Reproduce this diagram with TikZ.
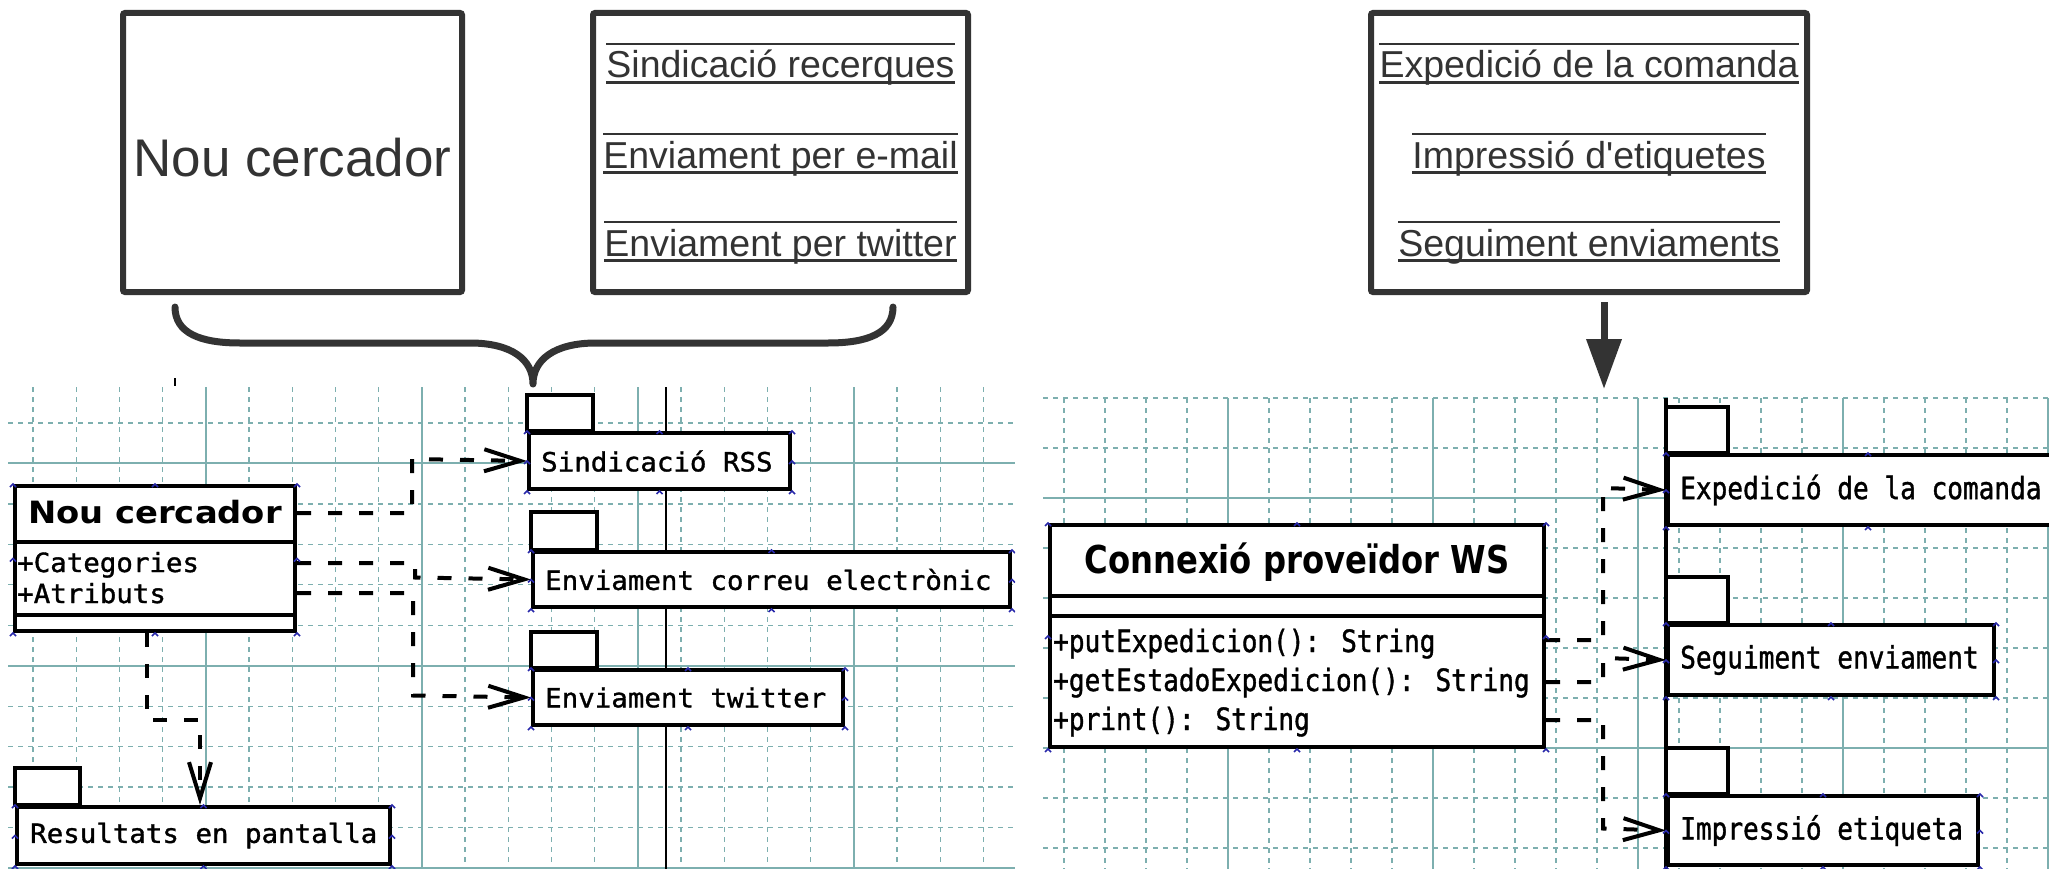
\documentclass[tikz,border=0pt]{standalone}
\usepackage{fontspec}
\setmainfont{Liberation Sans}
\newfontfamily\leftmono[FakeStretch=1.04,FakeBold=1.2]{DejaVu Sans Mono}
\newfontfamily\rightmono[FakeStretch=0.85,FakeBold=1.2]{DejaVu Sans Mono}
\newfontfamily\lefthead[FakeStretch=1.1]{DejaVu Sans}
\newfontfamily\righthead[FakeStretch=0.84]{DejaVu Sans}
\usetikzlibrary{arrows.meta}

\definecolor{inkgray}{RGB}{51,51,51}
\definecolor{gridteal}{RGB}{125,175,175}
\definecolor{handleblue}{RGB}{40,40,170}

\tikzset{
  topbox/.style={draw=inkgray, line width=6pt, rounded corners=2pt, inner sep=0pt, fill=white},
  toptext/.style={text=inkgray, inner sep=0pt, font=\fontsize{37.5}{40}\selectfont},
  rule/.style={draw=inkgray, line width=2.5pt},
  minorgrid/.style={gridteal, line width=1.3pt, dash pattern=on 5pt off 5pt},
  majorgrid/.style={gridteal, line width=2pt},
  umlbox/.style={draw, line width=4pt, fill=white, inner sep=0pt},
  pkgtab/.style={draw, line width=4pt, fill=white},
  lefttext/.style={inner sep=0pt, font=\leftmono\fontsize{26.4}{30}\selectfont},
  righttext/.style={inner sep=0pt, font=\rightmono\fontsize{30.7}{34}\selectfont},
  link/.style={line width=4pt, dash pattern=on 14pt off 17pt},
  dep/.style={link, -{Straight Barb[length=36pt,width=22pt]}},
  handle/.style={handleblue, line width=1.5pt},
}

% underlined item of a top box
\newcommand\listitem[4]{%
  \node[toptext, anchor=base] (#1) at (#2,#3) {#4};
  \draw[rule] (#1.west |- 0,#3-34) -- (#1.east |- 0,#3-34);
  \draw[rule] (#1.west |- 0,#3+4.5) -- (#1.east |- 0,#3+4.5);
}
% selection marks round a box
\newcommand\selmarks[1]{%
  \foreach \anc in {north west,north,north east,east,south east,south,south west,west}
    \draw[handle] ([shift={(-3,3)}]#1.\anc) -- ++(3,-3) -- ++(3,3);
}

\begin{document}
\begin{tikzpicture}[x=1pt,y=-1pt]
\useasboundingbox (0,0) rectangle (2049,869);
\fill[white] (0,0) rectangle (2049,869);

% top: the two sketches
\node[topbox, minimum width=339, minimum height=279] (nouTop) at (292.5,152.5) {};
\node[text=inkgray, inner sep=0pt, font=\fontsize{53}{60}\selectfont] (nouTxt) at (292.5,158) {Nou cercador};
\node[topbox, minimum width=375, minimum height=279] (sindTop) at (780.5,152.5) {};
\listitem{sindA}{780.5}{78}{Sindicació recerques}
\listitem{sindB}{780.5}{168}{Enviament per e-mail}
\listitem{sindC}{780.5}{256}{Enviament per twitter}

\node[topbox, minimum width=436, minimum height=279] (expTop) at (1589,152.5) {};
\listitem{expA}{1589}{78}{Expedició de la comanda}
\listitem{expB}{1589}{168}{Impressió d\textquotesingle etiquetes}
\listitem{expC}{1589}{256}{Seguiment enviaments}

% brace and arrow
\draw[inkgray, line width=7pt, line cap=round, line join=round]
  (175,307) .. controls (175,333) and (200,343) .. (240,343) -- (470,343)
  .. controls (512,343) and (533,360) .. (533,384)
  .. controls (533,360) and (554,343) .. (596,343) -- (828,343)
  .. controls (868,343) and (893,333) .. (893,307);
\coordinate (expIn) at (1604,389);
\draw[inkgray, line width=7pt, -{Triangle[length=50pt,width=34pt]}]
  ([xshift=15pt,yshift=-7pt]expTop.south) -- (expIn);

% left panel
\begin{scope}
\clip (8,385) rectangle (1015,869);
\foreach \k in {0,...,22}
  \draw[minorgrid] ({33+43.2*\k},387) -- ({33+43.2*\k},869);
\foreach \j in {0,...,11}
  \draw[minorgrid] (8,{423+40.45*\j}) -- (1015,{423+40.45*\j});
\foreach \k in {4,9,14,19}
  \draw[majorgrid] ({33+43.2*\k},387) -- ({33+43.2*\k},869);
\foreach \j in {1,6,11}
  \draw[majorgrid] (8,{423+40.45*\j}) -- (1015,{423+40.45*\j});
\draw[line width=2pt] (666,387) -- (666,869);

\node[umlbox, minimum width=280, minimum height=145] (ncClass) at (155,558.5) {};
\draw[line width=4pt] (ncClass.west |- 0,542) -- (ncClass.east |- 0,542);
\draw[line width=4pt] (ncClass.west |- 0,615) -- (ncClass.east |- 0,615);
\node[inner sep=0pt, anchor=base, font=\lefthead\bfseries\fontsize{30.7}{34}\selectfont]
  (ncHead) at (155,523) {Nou cercador};
\node[lefttext, anchor=base west] (ncCat) at (17,572) {+Categories};
\node[lefttext, anchor=base west] (ncAtr) at (17,603) {+Atributs};

\node[umlbox, minimum width=261, minimum height=56, anchor=north west] (sindPkg) at (527,431) {};
\draw[pkgtab] (sindPkg.north west) rectangle ++(66,-36);
\node[lefttext, anchor=west] (sindTxt) at ([xshift=14pt]sindPkg.west) {Sindicació RSS};

\node[umlbox, minimum width=477, minimum height=55, anchor=north west] (corrPkg) at (531,550) {};
\draw[pkgtab] (corrPkg.north west) rectangle ++(66,-38);
\node[lefttext, anchor=west] (corrTxt) at ([xshift=14pt]corrPkg.west) {Enviament correu electrònic};

\node[umlbox, minimum width=310, minimum height=55, anchor=north west] (twitPkg) at (531,668) {};
\draw[pkgtab] (twitPkg.north west) rectangle ++(66,-36);
\node[lefttext, anchor=west] (twitTxt) at ([xshift=14pt]twitPkg.west) {Enviament twitter};

\node[umlbox, minimum width=373, minimum height=57, anchor=north west] (resPkg) at (15,805) {};
\draw[pkgtab] (resPkg.north west) rectangle ++(65,-37);
\node[lefttext, anchor=west] (resTxt) at ([xshift=15pt]resPkg.west) {Resultats en pantalla};

\draw[dep] (ncClass.east |- 0,513) -- (412,513) -- (412,459) -- (sindPkg.west);
\draw[dep] (ncClass.east |- 0,563) -- (415,563) -- (415,577.5) -- (corrPkg.west);
\draw[dep] (ncClass.east |- 0,593) -- (413,593) -- (413,695.5) -- (twitPkg.west);
\draw[dep] (ncClass.south -| 147,0) -- (147,720) -- (200,720) -- (resPkg.north -| 200,0);

\selmarks{ncClass}
\selmarks{sindPkg}
\selmarks{corrPkg}
\selmarks{twitPkg}
\selmarks{resPkg}
\end{scope}
\draw[line width=1.5pt] (175,378) -- (175,386);

% right panel
\begin{scope}
\clip (1043,396) rectangle (2049,869);
\foreach \k in {0,...,24}
  \draw[minorgrid] ({1064+41*\k},398) -- ({1064+41*\k},869);
\foreach \j in {0,...,9}
  \draw[minorgrid] (1043,{398+50*\j}) -- (2049,{398+50*\j});
\foreach \k in {4,9,14,19,24}
  \draw[majorgrid] ({1064+41*\k},398) -- ({1064+41*\k},869);
\foreach \j in {2,7}
  \draw[majorgrid] (1043,{398+50*\j}) -- (2049,{398+50*\j});
\draw[line width=4pt] (1666,398) -- (1666,869);

\node[umlbox, minimum width=494, minimum height=222] (cpClass) at (1297,636) {};
\draw[line width=4pt] (cpClass.west |- 0,596) -- (cpClass.east |- 0,596);
\draw[line width=4pt] (cpClass.west |- 0,616) -- (cpClass.east |- 0,616);
\node[inner sep=0pt, anchor=base, font=\righthead\bfseries\fontsize{38.4}{42}\selectfont]
  (cpHead) at (1297,573) {Connexió proveïdor WS};
\node[righttext, anchor=base west] (cpPut) at (1053,652) {+putExpedicion(): String};
\node[righttext, anchor=base west] (cpGet) at (1053,691) {+getEstadoExpedicion(): String};
\node[righttext, anchor=base west] (cpPrint) at (1053,730) {+print(): String};

\node[umlbox, minimum width=400, minimum height=70, anchor=north west] (expPkg) at (1666,453) {};
\draw[pkgtab] (expPkg.north west) rectangle ++(62,-46);
\node[righttext, anchor=west] (expTxt) at ([xshift=14pt]expPkg.west) {Expedició de la comanda};

\node[umlbox, minimum width=326, minimum height=70, anchor=north west] (seguPkg) at (1666,623) {};
\draw[pkgtab] (seguPkg.north west) rectangle ++(62,-46);
\node[righttext, anchor=west] (seguTxt) at ([xshift=14pt]seguPkg.west) {Seguiment enviament};

\node[umlbox, minimum width=310, minimum height=69, anchor=north west] (imprPkg) at (1666,794) {};
\draw[pkgtab] (imprPkg.north west) rectangle ++(62,-46);
\node[righttext, anchor=west] (imprTxt) at ([xshift=14pt]imprPkg.west) {Impressió etiqueta};

\draw[dep] (cpClass.east |- 0,640) -- (1603,640) -- (1603,488) -- (expPkg.west);
\draw[dep] (cpClass.east |- 0,682) -- (1603,682) -- (1603,658) -- (seguPkg.west);
\draw[dep] (cpClass.east |- 0,720) -- (1603,720) -- (1603,828.5) -- (imprPkg.west);

\selmarks{cpClass}
\selmarks{expPkg}
\selmarks{seguPkg}
\selmarks{imprPkg}
\end{scope}
\end{tikzpicture}
\end{document}
